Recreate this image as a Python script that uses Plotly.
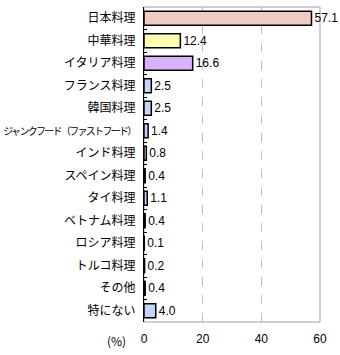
import plotly.graph_objects as go

categories = ["日本料理", "中華料理", "イタリア料理", "フランス料理", "韓国料理",
              "ジャンクフード（ファストフード）", "インド料理", "スペイン料理", "タイ料理",
              "ベトナム料理", "ロシア料理", "トルコ料理", "その他", "特にない"]
values = [57.1, 12.4, 16.6, 2.5, 2.5, 1.4, 0.8, 0.4, 1.1, 0.4, 0.1, 0.2, 0.4, 4.0]
value_labels = ["57.1", "12.4", "16.6", "2.5", "2.5", "1.4", "0.8", "0.4", "1.1",
                "0.4", "0.1", "0.2", "0.4", "4.0"]
x_ticks = [0, 20, 40, 60]

colors = ["#f0cbc2", "#ffffb0", "#d8b2fa"] + ["#c4d4f6"] * 11

FONT = "Noto Sans CJK JP"
NUMFONT = "Liberation Sans"

tick_text = []
for c in categories:
    if len(c) > 8:
        tick_text.append('<span style="font-size:10px;letter-spacing:-1.7px">' + c + '</span>')
    else:
        tick_text.append(c)

fig = go.Figure()
fig.add_trace(go.Bar(
    x=values, y=categories, orientation="h",
    marker=dict(color=colors, line=dict(color="#000000", width=1.5)),
    text=value_labels, textposition="outside", constraintext="none",
    textfont=dict(family=NUMFONT, size=12, color="#000000"),
    cliponaxis=False, width=0.62,
))

fig.update_layout(
    width=340, height=355,
    margin=dict(l=144, r=20, t=7, b=33, autoexpand=False),
    paper_bgcolor="white", plot_bgcolor="white",
    showlegend=False,
    font=dict(family=FONT, size=12, color="#000000"),
    xaxis=dict(range=[0, 60], tickvals=x_ticks, showgrid=True,
               gridcolor="#c0c0c0", griddash="dash", gridwidth=1,
               zeroline=False, showline=False, ticks="", automargin=False,
               tickfont=dict(size=12, family=NUMFONT), ticklabelstandoff=8),
    yaxis=dict(autorange="reversed", type="category", showgrid=False,
               tickvals=categories, ticktext=tick_text, automargin=False,
               showline=True, linecolor="#000000", linewidth=1,
               ticks="inside", tickson="boundaries", ticklen=3, tickcolor="#000000",
               tickfont=dict(size=12, family=FONT), ticklabelstandoff=5),
    shapes=[dict(type="rect", xref="x domain", yref="y domain", x0=0, x1=1, y0=0, y1=1,
                 line=dict(color="#a0a0a0", width=1), layer="below")],
    annotations=[dict(text="(%)", xref="paper", yref="paper", x=-0.09, y=0,
                      yshift=-18, xanchor="right", yanchor="middle", showarrow=False,
                      font=dict(size=12, family=FONT))],
)

fig.write_html("out.html")
